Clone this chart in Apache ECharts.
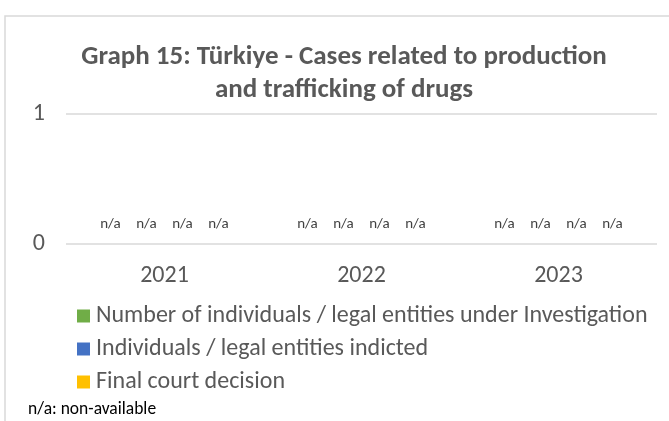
<!DOCTYPE html>
<html>
<head>
<meta charset="utf-8">
<script src="https://cdn.jsdelivr.net/npm/echarts@6/dist/echarts.min.js"></script>
<style>
html,body{margin:0;padding:0;background:#fff;}
#c{width:669px;height:421px;}
</style>
</head>
<body>
<div id="c"></div>
<script>
const categories = ['2021', '2022', '2023'];
const seriesNames = [
  'Number of individuals / legal entities under Investigation',
  'Individuals / legal entities indicted',
  'Final court decision',
  'Other'
];
const investigation = ['n/a', 'n/a', 'n/a'];
const indicted = ['n/a', 'n/a', 'n/a'];
const finalDecision = ['n/a', 'n/a', 'n/a'];
const other = ['n/a', 'n/a', 'n/a'];
const yTicks = [0, 1];
const colors = ['#70AD47', '#4472C4', '#FFC000', '#A5A5A5'];

const font = "Carlito, 'Liberation Sans Narrow', 'Open Sans', sans-serif";
const raw = [investigation, indicted, finalDecision, other];

function toData(arr) {
  return arr.map(v => ({ value: (typeof v === 'number') ? v : 0, raw: v }));
}

const chart = echarts.init(document.getElementById('c'));
chart.setOption({
  animation: false,
  textStyle: { fontFamily: font },
  title: {
    text: 'Graph 15: Türkiye - Cases related to production\nand trafficking of drugs',
    left: 339,
    textAlign: 'center',
    top: 36,
    textStyle: { fontFamily: font, fontSize: 27, fontWeight: 'bold', color: '#595959', lineHeight: 33 }
  },
  legend: {
    data: seriesNames.slice(0, 3),
    orient: 'vertical',
    left: 72,
    top: 299,
    icon: 'rect',
    itemWidth: 13,
    itemHeight: 13,
    itemGap: 9,
    textStyle: { fontFamily: font, fontSize: 24, color: '#595959', padding: [0, 0, 0, 1] }
  },
  grid: { left: 66, right: 12, top: 114, bottom: 177, containLabel: false },
  xAxis: {
    type: 'category',
    data: categories,
    axisLine: { show: false },
    axisTick: { show: false },
    axisLabel: { fontFamily: font, fontSize: 24, color: '#595959', margin: 20 }
  },
  yAxis: {
    type: 'value',
    min: yTicks[0],
    max: yTicks[yTicks.length - 1],
    interval: 1,
    axisLine: { show: false },
    axisTick: { show: false },
    splitLine: { lineStyle: { color: '#D9D9D9', width: 1.5 } },
    axisLabel: { fontFamily: font, fontSize: 24, color: '#595959', margin: 21 }
  },
  graphic: [
    { type: 'rect', shape: { x: 5, y: 16, width: 700, height: 500 },
      style: { fill: 'none', stroke: '#D9D9D9', lineWidth: 1.5 }, silent: true },
    { type: 'text', left: 28, top: 401,
      style: { text: 'n/a: non-available', fontFamily: font, fontSize: 17.5, fill: '#000000' } }
  ],
  series: seriesNames.map((name, i) => ({
    name: name,
    type: 'bar',
    barWidth: 30,
    barGap: '20%',
    itemStyle: { color: colors[i] },
    data: toData(raw[i]),
    label: {
      show: true,
      position: 'top',
      distance: 12,
      fontFamily: font,
      fontSize: 15,
      color: '#404040',
      formatter: p => p.data.raw
    }
  }))
});
</script>
</body>
</html>
